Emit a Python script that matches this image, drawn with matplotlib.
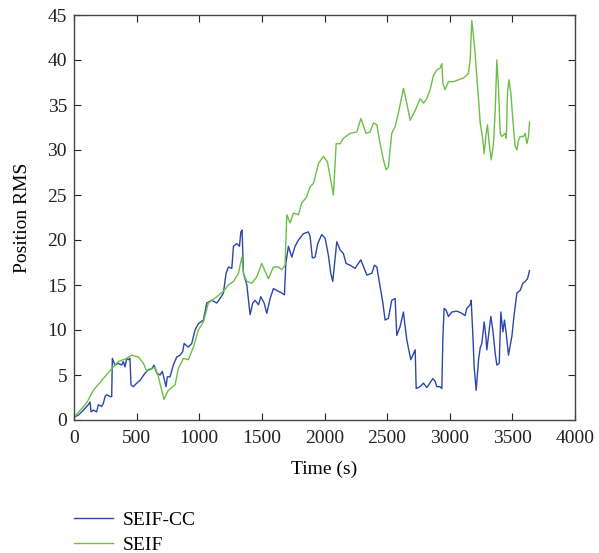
import matplotlib
matplotlib.use("Agg")
import matplotlib.pyplot as plt

# SEIF-CC position RMS over time
t_cc = [0, 35, 61, 88, 114, 128, 136, 154, 181, 194, 221, 234, 248, 261, 288, 301,
        306, 327, 354, 381, 394, 407, 421, 434, 447, 455, 474, 501, 527, 567, 594,
        621, 639, 661, 687, 705, 719, 735, 745, 767, 793, 820, 847, 868, 879, 913,
        940, 966, 993, 1033, 1060, 1100, 1140, 1166, 1193, 1214, 1233, 1260, 1273,
        1300, 1321, 1332, 1342, 1353, 1380, 1406, 1427, 1446, 1473, 1491, 1518, 1539,
        1566, 1592, 1619, 1659, 1680, 1691, 1712, 1739, 1765, 1792, 1832, 1871, 1885,
        1903, 1925, 1946, 1978, 2005, 2031, 2050, 2066, 2098, 2125, 2151, 2172, 2204,
        2244, 2290, 2338, 2378, 2399, 2418, 2444, 2465, 2484, 2510, 2537, 2564, 2577,
        2604, 2630, 2657, 2689, 2724, 2732, 2763, 2790, 2817, 2865, 2883, 2897, 2923,
        2937, 2945, 2955, 2971, 2990, 3017, 3057, 3097, 3123, 3136, 3163, 3171, 3184,
        3195, 3211, 3230, 3243, 3256, 3275, 3288, 3296, 3309, 3328, 3344, 3363, 3376,
        3395, 3408, 3424, 3437, 3451, 3469, 3496, 3514, 3536, 3562, 3584, 3602, 3621,
        3637]
rms_cc = [0.3, 0.55, 0.9, 1.3, 1.7, 2.0, 0.9, 1.1, 0.9, 1.7, 1.5, 1.85, 2.6, 2.8, 2.6, 2.6,
          6.85, 6.1, 6.3, 6.1, 6.5, 5.9, 6.85, 6.7, 6.85, 3.9, 3.7, 4.1, 4.4, 5.2, 5.6,
          5.7, 6.1, 5.2, 5.0, 5.4, 4.6, 3.7, 4.8, 4.8, 6.1, 7.0, 7.2, 7.6, 8.5, 8.1,
          8.5, 10.0, 10.7, 11.1, 13.0, 13.3, 13.0, 13.5, 14.1, 16.3, 17.0, 16.85, 19.3,
          19.6, 19.3, 20.9, 21.1, 16.3, 15.0, 11.7, 13.0, 13.3, 12.8, 13.7, 13.0, 11.85,
          13.5, 14.6, 14.4, 14.1, 13.9, 17.4, 19.3, 18.1, 19.3, 20.0, 20.7, 20.9, 20.4,
          18.0, 18.1, 19.6, 20.6, 20.2, 18.3, 16.3, 15.4, 19.8, 18.9, 18.5, 17.4, 17.2,
          16.85, 17.8, 16.1, 16.3, 17.2, 17.0, 14.8, 13.1, 11.1, 11.3, 13.3, 13.5, 9.4,
          10.4, 12.0, 8.9, 6.7, 7.8, 3.5, 3.7, 4.1, 3.6, 4.6, 4.3, 3.7, 3.7,
          3.5, 9.1, 12.4, 12.2, 11.5, 12.0, 12.1, 11.85, 11.6, 12.4, 12.8, 13.3, 9.6,
          5.9, 3.3, 6.7, 8.0, 8.5, 10.9, 9.3, 7.8, 9.3, 11.5, 10.0, 7.4, 6.1,
          6.3, 12.0, 9.8, 11.1, 9.6, 7.2, 9.3, 11.7, 14.1, 14.4, 15.2, 15.4, 15.7,
          16.6]

# SEIF position RMS over time
t_seif = [0, 101, 154, 234, 301, 354, 421, 461, 514, 554, 581, 621, 647, 674, 700, 719,
          753, 807, 833, 873, 913, 953, 993, 1033, 1073, 1140, 1193, 1233, 1273, 1313,
          1340, 1353, 1380, 1419, 1459, 1499, 1526, 1552, 1592, 1632, 1659, 1685, 1699,
          1725, 1752, 1792, 1818, 1858, 1885, 1912, 1952, 1991, 2023, 2045, 2071, 2093,
          2125, 2151, 2204, 2258, 2290, 2332, 2364, 2391, 2418, 2444, 2470, 2492, 2510,
          2537, 2564, 2590, 2630, 2657, 2684, 2724, 2763, 2790, 2817, 2843, 2870, 2897,
          2923, 2937, 2945, 2963, 2990, 3030, 3070, 3110, 3149, 3163, 3176, 3190, 3203,
          3216, 3230, 3243, 3261, 3275, 3288, 3301, 3315, 3331, 3349, 3363, 3376, 3389,
          3403, 3416, 3443, 3451, 3461, 3472, 3488, 3504, 3522, 3536, 3549, 3562, 3589,
          3602, 3616, 3629, 3637]
rms_seif = [0.3, 1.9, 3.3, 4.6, 5.7, 6.5, 6.85, 7.2, 7.0, 6.3, 5.4, 5.7, 5.9, 4.8, 3.3, 2.3,
            3.3, 3.9, 5.7, 6.85, 6.7, 8.1, 10.0, 10.9, 13.0, 13.7, 14.3, 15.0, 15.4, 16.3,
            18.1, 16.3, 15.4, 15.2, 15.9, 17.4, 16.5, 15.7, 17.0, 17.0, 16.7, 17.2, 22.8,
            21.9, 23.0, 22.8, 24.1, 24.8, 25.9, 26.3, 28.5, 29.3, 28.7, 27.0, 25.0, 30.7,
            30.7, 31.3, 31.85, 32.0, 33.5, 31.85, 32.0, 33.0, 32.8, 30.7, 28.9, 27.8, 28.1,
            31.85, 32.6, 34.1, 36.85, 35.2, 33.3, 34.4, 35.7, 35.2, 35.7, 36.7, 38.3, 38.9,
            39.1, 39.6, 37.4, 36.7, 37.6, 37.6, 37.8, 38.0, 38.5, 40.0, 44.4, 42.6, 40.7,
            38.1, 35.6, 33.0, 31.5, 29.6, 31.5, 32.8, 30.7, 28.9, 30.7, 34.4, 40.0, 37.0,
            31.85, 31.5, 31.85, 31.3, 36.3, 37.8, 36.3, 33.3, 30.4, 30.0, 31.1, 31.5, 31.5,
            31.85, 30.7, 31.5, 33.1]

x_ticks = [0, 500, 1000, 1500, 2000, 2500, 3000, 3500, 4000]
y_ticks = [0, 5, 10, 15, 20, 25, 30, 35, 40, 45]

plt.rcParams['font.family'] = ['Liberation Serif', 'DejaVu Serif']

fig = plt.figure(figsize=(5.99, 5.53), dpi=100)
ax = fig.add_axes([74 / 599, 1 - 420 / 553, (575 - 74) / 599, (420 - 15) / 553])

ax.plot(t_cc, rms_cc, color='#2b47a8', lw=1.0, label='SEIF-CC')
ax.plot(t_seif, rms_seif, color='#6cbf45', lw=1.0, label='SEIF')

ax.set_xlim(0, 4000)
ax.set_ylim(0, 45)
ax.set_xticks(x_ticks)
ax.set_yticks(y_ticks)
ax.tick_params(direction='in', top=True, right=True, length=5, width=0.8,
               labelsize=14, colors='#222222')
ax.tick_params(axis='x', pad=7)
ax.tick_params(axis='y', pad=5)
for s in ax.spines.values():
    s.set_color('#444444')
    s.set_linewidth(1.0)

ax.set_xlabel('Time (s)', fontsize=14, labelpad=10)
ax.set_ylabel('Position RMS', fontsize=14, labelpad=12)

fig.legend(loc='center left', bbox_to_anchor=(74 / 599, 0.037), frameon=False,
           fontsize=14, handlelength=2.0, handletextpad=0.5, labelspacing=0.35,
           borderpad=0, borderaxespad=0)

fig.savefig('out.png', dpi=100)
